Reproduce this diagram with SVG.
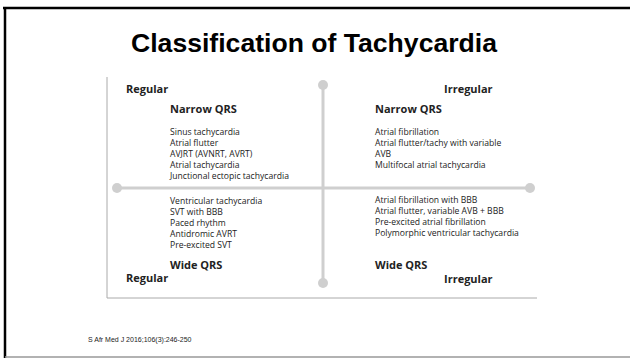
<svg xmlns="http://www.w3.org/2000/svg" width="630" height="358" viewBox="0 0 630 358">
<style>
.t{font-family:"Liberation Sans",Arial,sans-serif;font-weight:bold;fill:#000}
.h{font-family:"Open Sans","Noto Sans",sans-serif;font-weight:bold;fill:#222}
.i{font-family:"Open Sans","Noto Sans",sans-serif;font-size:8.6px;fill:#222}
.ax{stroke:#cfcfcf;stroke-width:3;fill:none}
.dot{fill:#cfcfcf}
</style>
<rect x="0" y="0" width="630" height="358" fill="#fff"/>
<g id="slide-frame">
<line x1="3" y1="8" x2="630" y2="8" stroke="#000" stroke-width="2.5"/>
<line x1="5" y1="7" x2="5" y2="358" stroke="#000" stroke-width="2.5"/>
<line x1="5" y1="357" x2="630" y2="357" stroke="#999" stroke-width="1.5"/>
</g>
<text id="title" class="t" x="314" y="52" font-size="26" text-anchor="middle" textLength="366" lengthAdjust="spacingAndGlyphs">Classification of Tachycardia</text>
<g id="image-frame">
<line x1="107" y1="77" x2="107" y2="298" stroke="#aaa" stroke-width="1"/>
<line x1="107" y1="298" x2="537" y2="298" stroke="#aaa" stroke-width="1"/>
</g>
<g id="connectors">
<line class="ax" x1="323" y1="85" x2="323" y2="283"/>
<line class="ax" x1="117" y1="188" x2="530" y2="188"/>
<circle class="dot" cx="323" cy="85" r="5"/>
<circle class="dot" cx="323" cy="283" r="5"/>
<circle class="dot" cx="117" cy="188" r="5"/>
<circle class="dot" cx="530" cy="188" r="5"/>
</g>
<g id="q-regular-narrow">
<text class="h" x="126" y="93" font-size="11">Regular</text>
<text class="h" x="170" y="113" font-size="11">Narrow QRS</text>
<text class="i" x="170" y="135">Sinus tachycardia</text>
<text class="i" x="170" y="146">Atrial flutter</text>
<text class="i" x="170" y="157">AVJRT (AVNRT, AVRT)</text>
<text class="i" x="170" y="168">Atrial tachycardia</text>
<text class="i" x="170" y="179">Junctional ectopic tachycardia</text>
</g>
<g id="q-irregular-narrow">
<text class="h" x="444" y="93" font-size="11">Irregular</text>
<text class="h" x="375" y="113" font-size="11">Narrow QRS</text>
<text class="i" x="375" y="135">Atrial fibrillation</text>
<text class="i" x="375" y="146">Atrial flutter/tachy with variable</text>
<text class="i" x="375" y="157">AVB</text>
<text class="i" x="375" y="168">Multifocal atrial tachycardia</text>
</g>
<g id="q-regular-wide">
<text class="i" x="170" y="204">Ventricular tachycardia</text>
<text class="i" x="170" y="215">SVT with BBB</text>
<text class="i" x="170" y="226">Paced rhythm</text>
<text class="i" x="170" y="237">Antidromic AVRT</text>
<text class="i" x="170" y="248">Pre-excited SVT</text>
<text class="h" x="170" y="269" font-size="11">Wide QRS</text>
<text class="h" x="126" y="282" font-size="11">Regular</text>
</g>
<g id="q-irregular-wide">
<text class="i" x="375" y="203">Atrial fibrillation with BBB</text>
<text class="i" x="375" y="214">Atrial flutter, variable AVB + BBB</text>
<text class="i" x="375" y="225">Pre-excited atrial fibrillation</text>
<text class="i" x="375" y="236">Polymorphic ventricular tachycardia</text>
<text class="h" x="375" y="269" font-size="11">Wide QRS</text>
<text class="h" x="444" y="283" font-size="11">Irregular</text>
</g>
<text id="citation" x="88" y="342" font-family="Liberation Sans,Arial,sans-serif" font-size="7" fill="#222">S Afr Med J 2016;106(3):246-250</text>
</svg>
